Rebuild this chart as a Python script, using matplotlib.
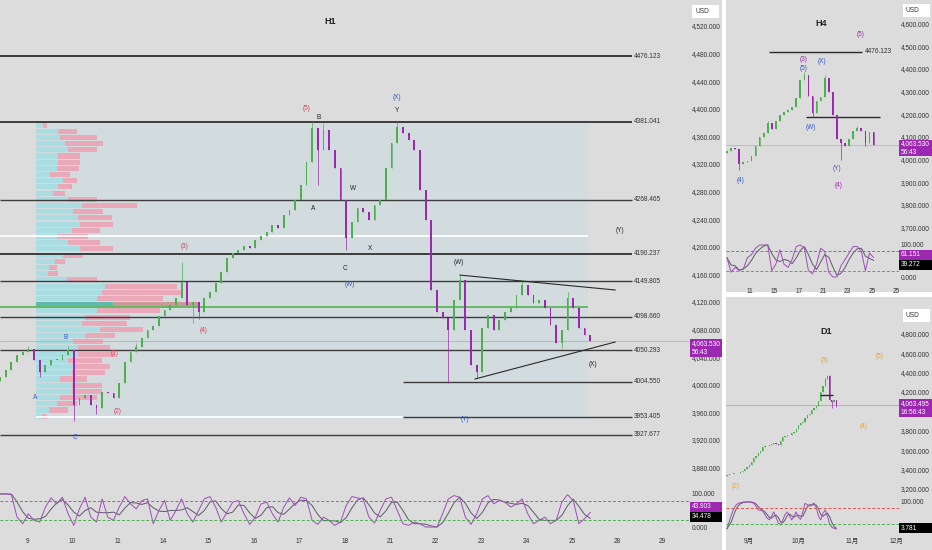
import matplotlib
matplotlib.use("Agg")
import matplotlib.pyplot as plt
import pandas as pd
from matplotlib.patches import Rectangle

plt.rcParams["font.family"] = ["Liberation Sans", "Noto Sans CJK JP"]

# ---------------- data ----------------
# H1 (one candle per 3h)
h1_first_open = 4005
h1_close = [4011, 4021, 4033, 4043, 4048, 4052, 4036, 4019, 4029, 4036,
            4036, 4043, 4050, 3971, 3981, 3985, 3971, 3966, 3990, 3988,
            3981, 4003, 4033, 4048, 4055, 4068, 4079, 4085, 4100, 4108,
            4116, 4126, 4149, 4116, 4120, 4106, 4126, 4134, 4148, 4163,
            4184, 4191, 4195, 4201, 4198, 4210, 4216, 4221, 4232, 4227,
            4246, 4253, 4268, 4290, 4323, 4372, 4340, 4369, 4340, 4314,
            4268, 4213, 4236, 4256, 4250, 4239, 4261, 4268, 4314, 4350,
            4374, 4365, 4355, 4340, 4282, 4239, 4137, 4106, 4097, 4079,
            4123, 4152, 4079, 4029, 4019, 4082, 4101, 4079, 4094, 4106,
            4111, 4130, 4145, 4130, 4119, 4123, 4111, 4087, 4061, 4079,
            4126, 4111, 4082, 4072, 4063.53]
h1_highs = {5: 4056, 12: 4056, 32: 4178, 55: 4381, 57: 4379, 70: 4381,
            81: 4160, 92: 4150, 100: 4135, 24: 4060}
h1_lows = {7: 4012, 13: 3948, 17: 3958, 34: 4090, 35: 4095, 56: 4290,
           61: 4195, 79: 4003, 84: 4010, 99: 4053}
h1_stoch_k = [100, 100, 98, 30, 10, 40, 20, 15, 60, 88,
              70, 90, 40, 5, 55, 90, 30, 15, 85, 30,
              20, 60, 92, 70, 55, 80, 85, 10, 50, 80,
              20, 50, 85, 40, 15, 50, 85, 92, 60, 15,
              45, 75, 80, 40, 8, 30, 70, 75, 40, 15,
              60, 88, 65, 90, 85, 20, 8, 30, 20, 5,
              15, 65, 92, 88, 85, 30, 12, 50, 85, 90,
              50, 10, 5, 15, 10, 0, 0, 0, 40, 85,
              95, 90, 30, 8, 40, 85, 95, 70, 80, 75,
              60, 70, 85, 40, 10, 20, 30, 10, 20, 75,
              98, 80, 10, 25, 44]
h1_days = ["9", "10", "11", "14", "15", "16", "17", "18", "21", "22",
           "23", "24", "25", "28", "29"]
h1_levels = [4476.123, 4381.041, 4268.465, 4190.237, 4149.805, 4098.660,
             4050.293, 4004.550, 3953.405, 3927.677]
h1_price_ticks = list(range(4520, 3879, -40))

# volume profile rows, top (4381) to bottom (3950): up / down volume
vp_top, vp_bottom = 4381.041, 3950.0
vp_up = [7, 22, 24, 29, 32, 22, 22, 21, 14, 27, 22, 17, 32, 46, 37, 42,
         44, 36, 21, 32, 44, 27, 19, 13, 12, 31, 69, 66, 61, 77, 61, 49,
         46, 64, 49, 37, 42, 42, 32, 37, 36, 24, 36, 36, 24, 21, 13, 6]
vp_down = [4, 19, 37, 38, 29, 22, 22, 22, 20, 14, 14, 12, 29, 55, 30, 34,
           33, 28, 31, 32, 33, 20, 10, 8, 10, 30, 72, 80, 66, 85, 63, 45,
           45, 43, 30, 30, 32, 37, 34, 37, 33, 27, 30, 30, 37, 20, 19, 5]
poc_price = 4113
vah_price = 4216

# H4 (one candle per 8h)
h4_first_open = 4030
h4_close = [4040, 4051, 4045, 3980, 3988, 3995, 4015, 4060, 4100, 4118,
            4160, 4135, 4170, 4195, 4208, 4219, 4230, 4270, 4350, 4375,
            4280, 4205, 4260, 4275, 4360, 4300, 4195, 4090, 4075, 4060,
            4090, 4125, 4140, 4128, 4075, 4120, 4063.53]
h4_highs = {19: 4385, 24: 4375, 10: 4170, 32: 4150}
h4_lows = {3: 3955, 21: 4190, 28: 4000, 34: 4060}
h4_stoch_k = [60, 15, 30, 20, 25, 60, 70, 90, 100, 100,
              100, 20, 40, 85, 40, 30, 55, 95, 100, 90,
              20, 10, 40, 90, 80, 15, 0, 0, 35, 55,
              75, 95, 95, 80, 20, 75, 61]
h4_days = ["11", "15", "17", "21", "23", "25", "25"]
h4_price_ticks = list(range(4600, 3699, -100))

# D1
d1_first_open = 3335
d1_close = [3344, 3350, 3358, 3362, 3370, 3366, 3378, 3390, 3410, 3428,
            3445, 3480, 3515, 3540, 3575, 3590, 3630, 3645, 3640, 3655,
            3665, 3675, 3660, 3650, 3690, 3735, 3745, 3760, 3755, 3780,
            3790, 3820, 3860, 3880, 3895, 3930, 3960, 3975, 4010, 4040,
            4060, 4110, 4200, 4260, 4330, 4360, 4120, 4100, 4115, 4063.495]
d1_highs = {45: 4380, 46: 4380, 44: 4340}
d1_lows = {47: 4030, 49: 4045}
d1_stoch_k = [5, 30, 55, 75, 88, 95, 97, 99, 100, 100,
              100, 98, 95, 85, 72, 70, 68, 55, 42, 36,
              50, 64, 45, 25, 18, 35, 55, 64, 52, 36,
              50, 64, 45, 38, 65, 95, 90, 85, 90, 96,
              80, 50, 36, 60, 71, 50, 21, 10, 6, 4]
d1_months = ["9月", "10月", "11月", "12月"]
d1_price_ticks = [4800, 4600, 4400, 4200, 3800, 3600, 3400, 3200]

# ---------------- style ----------------
W, H = 932, 550
BG = "#dcdcdc"
UP = "#4caf50"
DN = "#9c27b0"
RED = "#e23a55"
BLUE = "#3157d5"
PURP = "#9c27b0"
ORNG = "#f2a126"
TXT = "#333333"
FS = 4.7

fig = plt.figure(figsize=(W / 100, H / 100), dpi=100, facecolor="white")


def px_rect(x0, y0, x1, y1, color, z=-10):
    fig.add_artist(Rectangle((x0 / W, 1 - y1 / H), (x1 - x0) / W, (y1 - y0) / H,
                             transform=fig.transFigure, facecolor=color,
                             edgecolor="none", zorder=z))


def px_text(x, y, s, **kw):
    fig.text(x / W, 1 - y / H, s, **kw)


def px_axes(x0, y0, x1, y1):
    ax = fig.add_axes([x0 / W, 1 - y1 / H, (x1 - x0) / W, (y1 - y0) / H])
    ax.set_facecolor("none")
    for s in ax.spines.values():
        s.set_visible(False)
    ax.tick_params(length=0, labelsize=FS, colors=TXT)
    return ax


def candles(ax, first_open, closes, highs, lows, width):
    opens = [first_open] + closes[:-1]
    for i, (o, c) in enumerate(zip(opens, closes)):
        col = UP if c >= o else DN
        hi = highs.get(i, max(o, c))
        lo = lows.get(i, min(o, c))
        ax.vlines(i, lo, hi, color=col, lw=0.5, zorder=3)
        ax.bar(i, max(abs(c - o), 1.5), bottom=min(o, c), width=width,
               color=col, zorder=3, linewidth=0)


def stoch(ax, values):
    k = pd.Series(values, dtype=float)
    d = k.rolling(3, min_periods=1).mean()
    ax.plot(range(len(k)), d, color="#5a5a6a", lw=0.7)
    ax.plot(range(len(k)), k, color="#a04cb8", lw=0.7)
    ax.axhline(80, color="#e05050", lw=0.7, ls=(0, (3, 2)))
    ax.axhline(20, color="#4caf50", lw=0.7, ls=(0, (3, 2)))


def price_ticks(ax, ticks):
    ax.yaxis.tick_right()
    ax.set_yticks(ticks)
    ax.set_yticklabels([f"{t:,.3f}" for t in ticks])
    ax.tick_params(axis="y", pad=1.2)
    ax.set_xticks([])


def value_box(x0, y0, x1, y1, lines, color):
    px_rect(x0, y0, x1, y1, color, z=5)
    n = len(lines)
    for j, s in enumerate(lines):
        px_text(x0 + 1.5, y0 + (y1 - y0) * (j + 0.5) / n, s, fontsize=FS,
                color="white", va="center", ha="left", zorder=6)


def usd_box(x0, y0):
    px_rect(x0, y0, x0 + 27, y0 + 13, "white", z=5)
    px_text(x0 + 3, y0 + 6.5, "USD", fontsize=FS, color=TXT, va="center", zorder=6)


# panel backgrounds
px_rect(0, 0, 722, 550, BG)
px_rect(726, 0, 932, 292, BG)
px_rect(726, 297, 932, 550, BG)

# ---------------- H1 ----------------
S1 = 5.675  # px per candle
ax1 = px_axes(0, 0, 690, 480)
ax1.set_xlim(0, 690 / S1)
ax1.set_ylim(3862, 4557.7)
price_ticks(ax1, h1_price_ticks)

# value area box and volume profile
x_vp = 36 / S1
ax1.add_patch(Rectangle((x_vp, vp_bottom), (588 - 36) / S1, vp_top - vp_bottom,
                        facecolor="#d2dcdf", edgecolor="none", zorder=0))
row_h = (vp_top - vp_bottom) / len(vp_up)
for i, (u, d) in enumerate(zip(vp_up, vp_down)):
    yc = vp_top - (i + 0.5) * row_h
    poc = abs(yc - poc_price) < row_h / 2
    ax1.barh(yc, u / S1, left=x_vp, height=row_h * 0.82,
             color="#5fb9ad" if poc else "#a9dde1", zorder=1, linewidth=0)
    ax1.barh(yc, d / S1, left=x_vp + u / S1, height=row_h * 0.82,
             color="#c99a96" if poc else "#e9a9b9", zorder=1, linewidth=0)

ax1.hlines(poc_price, 0, 588 / S1, color="#5cb85c", lw=1.3, zorder=2)
ax1.hlines(vah_price, 0, 588 / S1, color="white", lw=1.3, zorder=2)
ax1.hlines(h1_levels[8], x_vp, 403 / S1, color="white", lw=1.3, zorder=2)

for lv in h1_levels:
    x0 = 403 / S1 if lv in (4004.550, 3953.405) else 0
    ax1.hlines(lv, x0, 632 / S1, color="#3c3c3c",
               lw=1.4 if lv in (4476.123, 4381.041, 4190.237) else 1.0, zorder=2)
    ax1.text(634 / S1, lv, f"{lv:.3f}", fontsize=FS, color=TXT, va="center")

ax1.axhline(h1_close[-1], color="#c9a3cf", lw=0.6, zorder=1)
candles(ax1, h1_first_open, h1_close, h1_highs, h1_lows, 0.32)

# triangle
ax1.plot([81.06, 108.4], [4159, 4137.4], color="#2a2a2a", lw=0.8, zorder=4)
ax1.plot([83.7, 108.4], [4008.4, 4062], color="#2a2a2a", lw=0.8, zorder=4)

h1_labels = [("(5)", 54.1, 4401, RED), ("B", 56.2, 4388, "#222"),
             ("(X)", 70.0, 4417, BLUE), ("Y", 70.0, 4398, "#222"),
             ("A", 55.2, 4256, "#222"), ("W", 62.2, 4284, "#222"),
             ("C", 60.8, 4169, "#222"), ("X", 65.2, 4197, "#222"),
             ("(W)", 61.7, 4146, BLUE), ("(3)", 32.6, 4200, RED),
             ("(4)", 35.8, 4078, RED), ("(1)", 20.1, 4046, RED),
             ("B", 11.5, 4068, BLUE), ("A", 6.2, 3982, BLUE),
             ("(2)", 20.8, 3961, RED), ("C", 13.2, 3923, BLUE),
             ("(W)", 80.9, 4177, "#222"), ("(Y)", 109.3, 4223, "#222"),
             ("(X)", 104.5, 4030, "#222"), ("(Y)", 81.9, 3949, BLUE)]
for s, x, y, c in h1_labels:
    ax1.text(x, y, s, fontsize=FS, color=c, ha="center", va="center", zorder=5)

px_text(330, 21, "H1", fontsize=6.5, fontweight="bold", color="#222", ha="center", va="center")
usd_box(692, 5)
value_box(690, 339, 722, 357, ["4,063.530", "56:43"], PURP)

ax1s = px_axes(0, 484, 690, 532)
ax1s.set_xlim(0, 690 / S1)
ax1s.set_ylim(-15, 130)
stoch(ax1s, h1_stoch_k)
ax1s.yaxis.tick_right()
ax1s.set_yticks([100, 0])
ax1s.set_yticklabels(["100.000", "0.000"])
ax1s.tick_params(axis="y", pad=1.2)
ax1s.set_xticks([4.76 + 8 * i for i in range(len(h1_days))])
ax1s.set_xticklabels(h1_days)
ax1s.tick_params(axis="x", pad=4)
value_box(690, 502, 722, 512, ["43.903"], PURP)
value_box(690, 512, 722, 522, ["34.478"], "black")

# ---------------- H4 ----------------
ax4 = px_axes(726, 0, 899, 240)
ax4.set_xlim(-0.25, 42.25)
ax4.set_ylim(3645.6, 4704)
price_ticks(ax4, h4_price_ticks)
ax4.hlines(4476.123, 10.3, 33.2, color="#2a2a2a", lw=1.0)
ax4.text(33.9, 4476.123, "4476.123", fontsize=FS, color=TXT, va="center")
ax4.hlines(4190, 19.4, 37.6, color="#2a2a2a", lw=1.0)
ax4.axhline(h4_close[-1], color="#d7a3d6", lw=0.6)
candles(ax4, h4_first_open, h4_close, h4_highs, h4_lows, 0.42)
h4_labels = [("(5)", 32.7, 4550, PURP), ("(3)", 18.7, 4440, PURP),
             ("(5)", 18.7, 4404, BLUE), ("(X)", 23.3, 4431, BLUE),
             ("(W)", 20.6, 4140, BLUE), ("(Y)", 27.0, 3959, BLUE),
             ("(4)", 27.3, 3888, PURP), ("(4)", 3.4, 3906, BLUE)]
for s, x, y, c in h4_labels:
    ax4.text(x, y, s, fontsize=FS, color=c, ha="center", va="center", zorder=5)
px_text(821, 24, "H4", fontsize=6.5, fontweight="bold", color="#222", ha="center", va="center")
usd_box(903, 4)
value_box(899, 140, 932, 156, ["4,063.530", "56:43"], PURP)

ax4s = px_axes(726, 240, 899, 282)
ax4s.set_xlim(-0.25, 42.25)
ax4s.set_ylim(-15.6, 115.6)
stoch(ax4s, h4_stoch_k)
ax4s.yaxis.tick_right()
ax4s.set_yticks([100, 0])
ax4s.set_yticklabels(["100.000", "0.000"])
ax4s.tick_params(axis="y", pad=1.2)
ax4s.set_xticks([5.65 + 6 * j for j in range(len(h4_days))])
ax4s.set_xticklabels(h4_days)
ax4s.tick_params(axis="x", pad=4)
value_box(899, 250, 932, 260, ["61.151"], PURP)
value_box(899, 260, 932, 270, ["39.272"], "black")

# ---------------- D1 ----------------
ax5 = px_axes(726, 298, 899, 496)
ax5.set_xlim(-0.45, 77.1)
ax5.set_ylim(3128, 5169)
price_ticks(ax5, d1_price_ticks)
ax5.axhline(d1_close[-1], color="#a8a8b0", lw=0.6)
ax5.hlines(4170, 41.7, 47.5, color="#2a2a2a", lw=1.0, zorder=4)
candles(ax5, d1_first_open, d1_close, d1_highs, d1_lows, 0.55)
d1_labels = [("(3)", 43.9, 4520), ("(5)", 68.6, 4561), ("(4)", 61.0, 3849),
             ("(2)", 4.0, 3221)]
for s, x, y in d1_labels:
    ax5.text(x, y, s, fontsize=FS, color=ORNG, ha="center", va="center", zorder=5)
px_text(826, 331, "D1", fontsize=6.5, fontweight="bold", color="#222", ha="center", va="center")
usd_box(903, 309)
value_box(899, 399, 932, 417, ["4,063.495", "16:56:43"], PURP)

ax5s = px_axes(726, 496, 899, 534)
ax5s.set_xlim(-0.45, 77.1)
ax5s.set_ylim(-14, 121)
stoch(ax5s, d1_stoch_k)
ax5s.yaxis.tick_right()
ax5s.set_yticks([100])
ax5s.set_yticklabels(["100.000"])
ax5s.tick_params(axis="y", pad=1.2)
ax5s.set_xticks([9.9, 31.8, 56.0, 75.8])
ax5s.set_xticklabels(d1_months)
ax5s.tick_params(axis="x", pad=3)
value_box(899, 523, 932, 533, ["3.781"], "black")

fig.savefig("out.png", dpi=100, facecolor="white")
